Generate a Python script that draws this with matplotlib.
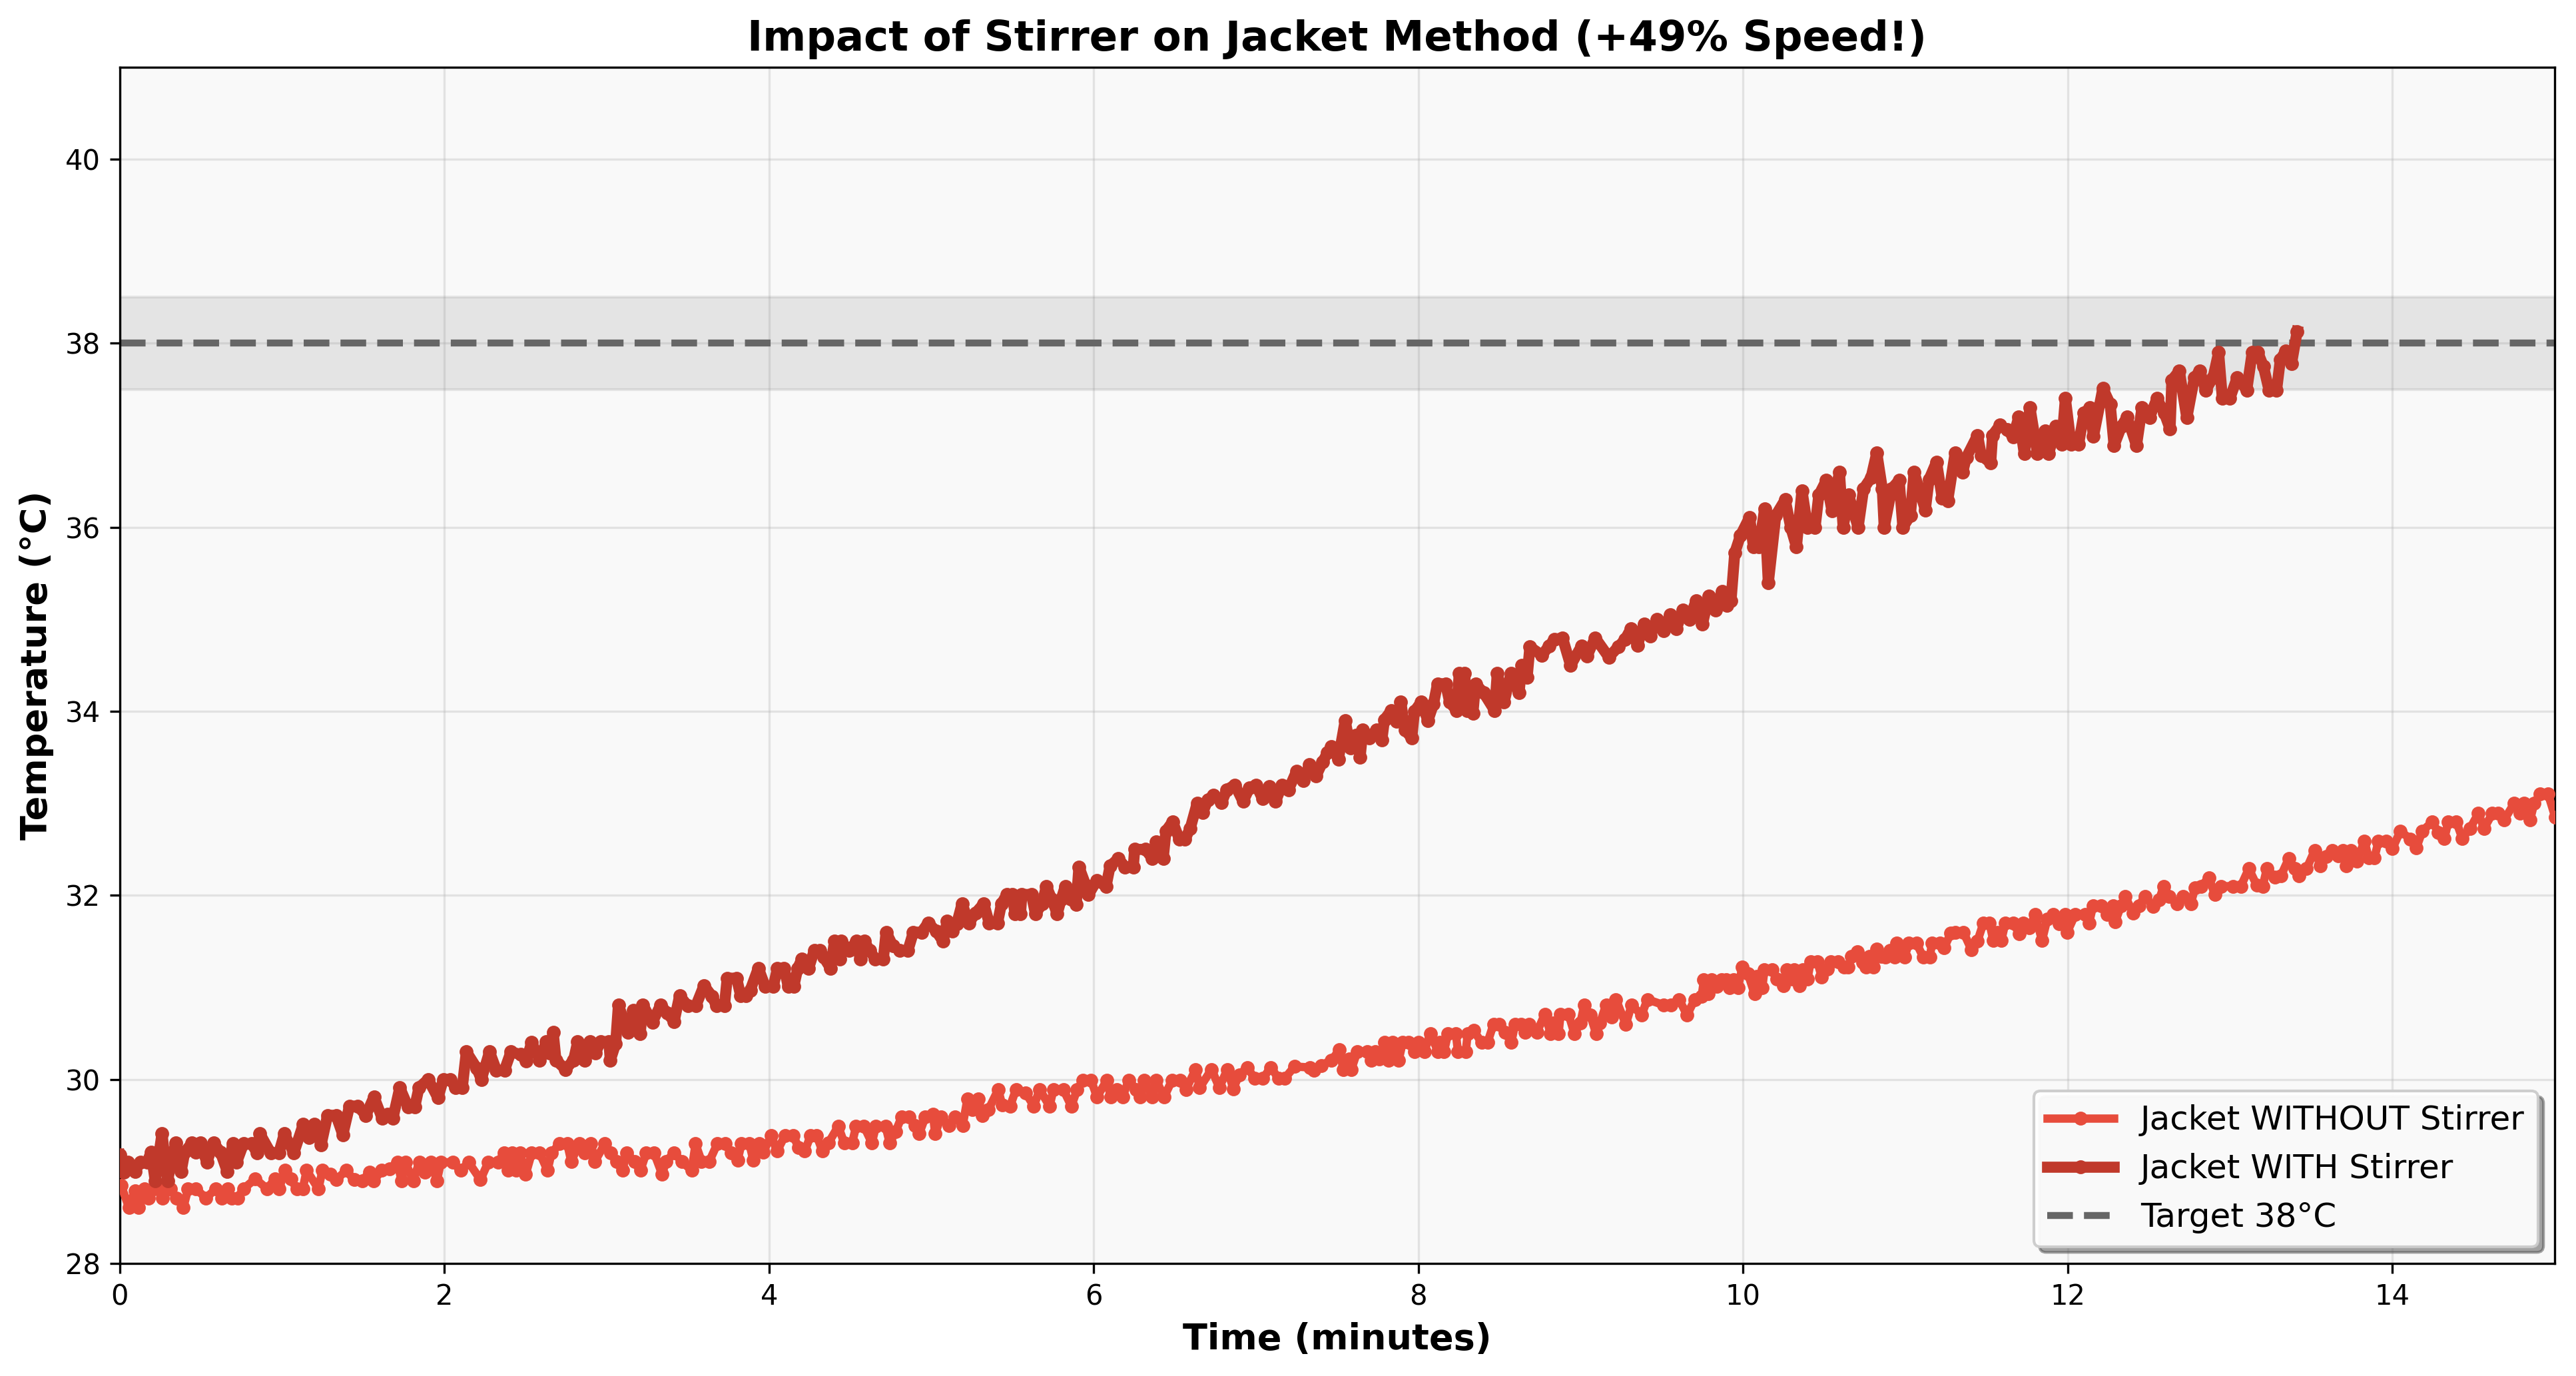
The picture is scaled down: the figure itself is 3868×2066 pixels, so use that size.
import matplotlib
matplotlib.use("Agg")
import matplotlib.pyplot as plt

# ---------------- data ----------------
t_without = [
    0.008, 0.056, 0.093, 0.117, 0.154, 0.178, 0.214, 0.251, 0.263, 0.312, 0.348, 0.392, 0.421, 0.470,
    0.531, 0.591, 0.628, 0.665, 0.689, 0.725, 0.762, 0.835, 0.908, 0.956, 0.981, 1.017, 1.054, 1.090,
    1.127, 1.151, 1.224, 1.248, 1.297, 1.334, 1.394, 1.443, 1.492, 1.540, 1.565, 1.613, 1.662, 1.711,
    1.735, 1.759, 1.808, 1.845, 1.881, 1.917, 1.954, 1.978, 2.051, 2.100, 2.149, 2.222, 2.270, 2.331,
    2.368, 2.392, 2.416, 2.441, 2.465, 2.501, 2.538, 2.587, 2.635, 2.660, 2.708, 2.757, 2.781, 2.830,
    2.866, 2.903, 2.927, 2.988, 3.024, 3.061, 3.097, 3.122, 3.170, 3.207, 3.243, 3.292, 3.341, 3.365,
    3.414, 3.462, 3.523, 3.547, 3.584, 3.632, 3.681, 3.730, 3.767,
    3.806, 3.830, 3.879, 3.903, 3.940, 3.964, 4.013, 4.049, 4.098, 4.147, 4.183, 4.220, 4.256, 4.293,
    4.329, 4.366, 4.426, 4.463, 4.512, 4.536, 4.585, 4.633, 4.658, 4.718, 4.743, 4.779, 4.816, 4.864,
    4.901, 4.925, 4.962, 5.010, 5.023, 5.059, 5.108, 5.144, 5.193, 5.222, 5.254, 5.290, 5.315, 5.351,
    5.412, 5.436, 5.485, 5.521, 5.582, 5.631, 5.667, 5.728, 5.752, 5.813, 5.862, 5.898, 5.935, 5.984,
    6.020, 6.081, 6.105, 6.142, 6.178, 6.215, 6.263, 6.288, 6.312, 6.361, 6.385, 6.434, 6.482, 6.531,
    6.568, 6.628, 6.653, 6.726, 6.774, 6.823, 6.860, 6.896, 6.945, 6.993, 7.042, 7.091, 7.139, 7.176,
    7.237, 7.334, 7.358, 7.400,
    7.465, 7.514, 7.538, 7.574, 7.587, 7.623, 7.684, 7.708, 7.733, 7.757, 7.793, 7.818, 7.842, 7.879,
    7.903, 7.939, 7.976, 8.000, 8.037, 8.073, 8.122, 8.134, 8.158, 8.183, 8.231, 8.244, 8.292, 8.304,
    8.341, 8.390, 8.426, 8.463, 8.499, 8.536, 8.572, 8.596, 8.633, 8.657, 8.682, 8.730, 8.779, 8.815,
    8.828, 8.864, 8.876, 8.925, 8.961, 8.998, 9.022, 9.059, 9.095, 9.119, 9.156, 9.192, 9.217, 9.278,
    9.314, 9.375, 9.411, 9.509, 9.557, 9.606, 9.655, 9.703,
    9.745, 9.759, 9.786, 9.806, 9.840, 9.867, 9.895, 9.915, 9.942, 9.969, 9.996, 10.030, 10.071,
    10.085, 10.119, 10.132, 10.180, 10.207, 10.248, 10.268, 10.302, 10.316, 10.349, 10.370, 10.397,
    10.417, 10.458, 10.485, 10.519, 10.540, 10.587, 10.621, 10.648, 10.669, 10.703, 10.737, 10.757,
    10.777, 10.805, 10.825, 10.852, 10.879, 10.906, 10.934, 10.947, 10.995, 11.022, 11.069, 11.110,
    11.151, 11.164, 11.212, 11.239, 11.280,
    11.309, 11.358, 11.407, 11.444, 11.481, 11.518, 11.542, 11.567, 11.591, 11.616, 11.665, 11.702,
    11.727, 11.764, 11.800, 11.842, 11.874, 11.911, 11.948, 11.985, 11.997, 12.046, 12.108, 12.132,
    12.157, 12.206, 12.243, 12.280, 12.292, 12.329, 12.354, 12.403, 12.440, 12.477, 12.526, 12.563,
    12.592, 12.624, 12.673, 12.710, 12.759, 12.784, 12.821, 12.870, 12.907, 12.944, 13.018, 13.067,
    13.116, 13.165, 13.202, 13.227, 13.276, 13.313, 13.362, 13.399, 13.423, 13.472, 13.522, 13.558,
    13.595, 13.632, 13.669, 13.694, 13.718, 13.743, 13.780, 13.829, 13.854, 13.890, 13.915, 13.964,
    14.001, 14.050, 14.112, 14.149, 14.185, 14.247, 14.284, 14.321, 14.345, 14.395, 14.431, 14.480,
    14.530, 14.566, 14.616, 14.652, 14.689, 14.751, 14.788, 14.812, 14.849, 14.874, 14.911, 14.960,
    15.004,
]
temp_without = [
    28.85, 28.61, 28.79, 28.61, 28.81, 28.71, 28.81, 28.81, 28.71, 28.81, 28.71, 28.61, 28.81, 28.81,
    28.71, 28.81, 28.71, 28.81, 28.71, 28.71, 28.81, 28.92, 28.81, 28.92, 28.81, 29.01, 28.92, 28.81,
    28.81, 29.01, 28.81, 29.01, 28.97, 28.91, 29.01, 28.91, 28.90, 28.99, 28.90, 29.01, 29.03, 29.10,
    28.90, 29.10, 28.90, 29.10, 28.99, 29.10, 28.90, 29.10, 29.10, 29.01, 29.10, 28.91, 29.10, 29.10,
    29.20, 29.01, 29.20, 29.01, 29.20, 28.97, 29.20, 29.20, 29.01, 29.20, 29.30, 29.30, 29.11, 29.30,
    29.20, 29.30, 29.11, 29.30, 29.20, 29.11, 29.01, 29.20, 29.11, 29.01, 29.20, 29.20, 28.97, 29.11,
    29.20, 29.11, 29.01, 29.30, 29.11, 29.11, 29.30, 29.30, 29.20,
    29.12, 29.30, 29.30, 29.12, 29.30, 29.21, 29.39, 29.22, 29.39, 29.39, 29.26, 29.22, 29.39, 29.39,
    29.22, 29.31, 29.49, 29.31, 29.31, 29.49, 29.49, 29.31, 29.49, 29.49, 29.31, 29.43, 29.59, 29.59,
    29.50, 29.41, 29.59, 29.62, 29.41, 29.59, 29.50, 29.59, 29.50, 29.79, 29.67, 29.79, 29.61, 29.67,
    29.89, 29.72, 29.71, 29.89, 29.85, 29.71, 29.89, 29.71, 29.89, 29.89, 29.71, 29.89, 29.99, 29.99,
    29.81, 29.99, 29.81, 29.89, 29.81, 29.99, 29.89, 29.81, 29.99, 29.81, 29.99, 29.81, 29.99, 29.99,
    29.89, 30.11, 29.91, 30.11, 29.91, 30.11, 29.90, 30.05, 30.13, 30.01, 30.01, 30.13, 30.01, 30.01,
    30.14, 30.13, 30.10, 30.15,
    30.21, 30.32, 30.11, 30.22, 30.11, 30.30, 30.30, 30.21, 30.30, 30.22, 30.40, 30.21, 30.40, 30.21,
    30.40, 30.40, 30.30, 30.40, 30.30, 30.50, 30.30, 30.40, 30.30, 30.50, 30.50, 30.30, 30.30, 30.50,
    30.53, 30.40, 30.40, 30.60, 30.60, 30.51, 30.40, 30.60, 30.60, 30.51, 30.60, 30.51, 30.71, 30.50,
    30.61, 30.50, 30.71, 30.71, 30.50, 30.61, 30.81, 30.70, 30.50, 30.61, 30.81, 30.68, 30.87, 30.60,
    30.81, 30.70, 30.87, 30.81, 30.81, 30.87, 30.70, 30.87,
    30.90, 31.08, 30.93, 31.08, 31.01, 31.08, 31.08, 31.00, 31.08, 31.00, 31.22, 31.15, 30.93,
    31.12, 31.00, 31.19, 31.19, 31.09, 31.02, 31.19, 31.09, 31.19, 31.02, 31.19, 31.09,
    31.28, 31.28, 31.11, 31.20, 31.28, 31.28, 31.22, 31.22, 31.34, 31.39, 31.27, 31.22,
    31.34, 31.22, 31.42, 31.34, 31.33, 31.40, 31.33, 31.48, 31.33, 31.48, 31.48, 31.33,
    31.33, 31.48, 31.48, 31.43, 31.59,
    31.60, 31.60, 31.41, 31.50, 31.70, 31.70, 31.51, 31.60, 31.51, 31.70, 31.70, 31.58,
    31.70, 31.65, 31.79, 31.51, 31.74, 31.79, 31.69, 31.79, 31.60, 31.79, 31.79, 31.70,
    31.89, 31.89, 31.79, 31.89, 31.71, 31.89, 31.99, 31.81, 31.89, 31.99, 31.88, 31.95,
    32.10, 31.99, 31.91, 31.99, 31.91, 32.08, 32.10, 32.19, 32.01, 32.10, 32.10, 32.10,
    32.29, 32.11, 32.10, 32.29, 32.20, 32.21, 32.40, 32.29, 32.21, 32.29, 32.49, 32.32,
    32.42, 32.49, 32.43, 32.49, 32.32, 32.49, 32.37, 32.59, 32.41, 32.41, 32.59, 32.59,
    32.51, 32.70, 32.61, 32.52, 32.70, 32.80, 32.68, 32.62, 32.80, 32.80, 32.62, 32.73,
    32.89, 32.73, 32.89, 32.89, 32.82, 33.00, 32.89, 33.00, 32.82, 33.00, 33.10, 33.10,
    32.85,
]

t_with = [
    0.000, 0.026, 0.050, 0.093, 0.126, 0.168, 0.193, 0.218, 0.260, 0.294, 0.344, 0.378, 0.400, 0.445,
    0.470, 0.495, 0.536, 0.578, 0.620, 0.662, 0.696, 0.720, 0.762, 0.813, 0.846, 0.863, 0.930, 0.980,
    1.014, 1.072, 1.130, 1.164, 1.198, 1.240, 1.280, 1.332, 1.374, 1.415, 1.466, 1.516, 1.566, 1.616,
    1.650, 1.683, 1.725, 1.776, 1.817, 1.843, 1.900, 1.960, 1.993, 2.035, 2.069, 2.110, 2.135, 2.200,
    2.227, 2.278, 2.320, 2.370, 2.410, 2.470, 2.504, 2.537,
    2.587, 2.628, 2.645, 2.670, 2.687, 2.746, 2.796, 2.821, 2.863, 2.896, 2.930, 2.963, 3.013, 3.022,
    3.055, 3.072, 3.131, 3.164, 3.206, 3.223, 3.281, 3.332, 3.373, 3.415, 3.449, 3.499, 3.549, 3.599,
    3.650, 3.675, 3.725, 3.742, 3.800, 3.825, 3.859, 3.884, 3.934, 3.976, 4.026, 4.052, 4.093, 4.118,
    4.152, 4.177, 4.202, 4.244, 4.278, 4.311, 4.336, 4.378, 4.403, 4.437, 4.445, 4.495, 4.537, 4.562,
    4.587, 4.621, 4.654, 4.704, 4.721, 4.763, 4.805, 4.855, 4.889, 4.939, 4.980,
    5.030, 5.072, 5.097, 5.130, 5.156, 5.189, 5.231, 5.273, 5.323, 5.356, 5.407, 5.432, 5.465, 5.499,
    5.515, 5.549, 5.557, 5.616, 5.641, 5.683, 5.708, 5.741, 5.775, 5.800, 5.825, 5.859, 5.892, 5.909,
    5.951, 5.968, 6.018, 6.076, 6.101, 6.152, 6.193, 6.244, 6.252, 6.319, 6.361, 6.386, 6.428, 6.445,
    6.486, 6.528, 6.562, 6.595, 6.637, 6.671, 6.704, 6.738, 6.788,
    6.820, 6.870, 6.920, 6.960, 7.000, 7.040, 7.080, 7.120, 7.160, 7.200, 7.250, 7.290, 7.330, 7.370,
    7.410, 7.440,
    7.465, 7.507, 7.549, 7.582, 7.616, 7.641, 7.658, 7.699, 7.741, 7.775, 7.791, 7.833, 7.867, 7.892,
    7.917, 7.959, 7.976, 8.017, 8.059, 8.093, 8.118, 8.168, 8.193, 8.235, 8.252, 8.285, 8.302, 8.336,
    8.352, 8.403, 8.470, 8.486, 8.528, 8.570, 8.620, 8.637, 8.670, 8.687, 8.762, 8.804, 8.838, 8.888,
    8.938, 9.005, 9.039, 9.089, 9.173, 9.231, 9.273,
    9.310, 9.350, 9.390, 9.430, 9.470, 9.510, 9.550, 9.590, 9.630, 9.670, 9.710, 9.750, 9.790, 9.830,
    9.870, 9.900,
    9.926, 9.949, 9.984, 10.041, 10.064, 10.099, 10.133, 10.156, 10.202, 10.260, 10.294, 10.329,
    10.363, 10.398, 10.444, 10.467, 10.513, 10.548, 10.594, 10.617, 10.651, 10.709, 10.743, 10.789,
    10.824, 10.858, 10.870, 10.916, 10.962, 10.985, 11.031, 11.054, 11.123, 11.146, 11.192, 11.227,
    11.261, 11.307, 11.353, 11.376, 11.445, 11.468, 11.526, 11.537, 11.583, 11.629, 11.664, 11.699,
    11.733, 11.768, 11.814, 11.860, 11.883, 11.929, 11.963, 11.986, 12.021, 12.067, 12.101, 12.136,
    12.159, 12.217, 12.262, 12.286, 12.332, 12.366, 12.424, 12.458, 12.504, 12.550, 12.596, 12.631,
    12.642, 12.688, 12.734, 12.781, 12.815, 12.850, 12.896, 12.930, 12.953, 12.999, 13.045, 13.103,
    13.137, 13.172, 13.206, 13.241, 13.287, 13.310, 13.344, 13.379, 13.414,
]
temp_with = [
    29.18, 28.99, 29.10, 29.00, 29.10, 29.10, 29.21, 28.90, 29.41, 28.90, 29.31, 29.00, 29.21, 29.31,
    29.21, 29.31, 29.10, 29.31, 29.21, 29.00, 29.30, 29.10, 29.30, 29.30, 29.20, 29.41, 29.20, 29.20,
    29.41, 29.20, 29.51, 29.37, 29.51, 29.29, 29.61, 29.61, 29.40, 29.71, 29.71, 29.61, 29.81, 29.58,
    29.62, 29.58, 29.91, 29.70, 29.70, 29.91, 30.00, 29.80, 30.00, 30.00, 29.91, 29.91, 30.30, 30.12,
    30.00, 30.30, 30.10, 30.10, 30.30, 30.27, 30.20, 30.40,
    30.21, 30.41, 30.29, 30.51, 30.21, 30.11, 30.21, 30.41, 30.21, 30.41, 30.29, 30.41, 30.41, 30.21,
    30.39, 30.81, 30.51, 30.75, 30.50, 30.81, 30.62, 30.81, 30.72, 30.63, 30.91, 30.80, 30.80, 31.02,
    30.90, 30.80, 30.80, 31.10, 31.10, 30.91, 30.91, 30.97, 31.21, 31.01, 31.01, 31.21, 31.21, 31.01,
    31.01, 31.21, 31.31, 31.21, 31.40, 31.40, 31.33, 31.21, 31.50, 31.31, 31.50, 31.40, 31.50, 31.31,
    31.50, 31.40, 31.31, 31.31, 31.60, 31.45, 31.40, 31.40, 31.60, 31.60, 31.70,
    31.61, 31.50, 31.72, 31.61, 31.69, 31.91, 31.70, 31.81, 31.91, 31.70, 31.70, 31.91, 32.01, 32.01,
    31.80, 31.80, 32.01, 32.01, 31.80, 31.91, 32.10, 31.96, 31.80, 31.96, 32.10, 31.96, 31.90, 32.31,
    32.11, 32.01, 32.16, 32.10, 32.32, 32.40, 32.31, 32.31, 32.50, 32.50, 32.40, 32.58, 32.40, 32.70,
    32.80, 32.61, 32.61, 32.73, 33.00, 32.90, 33.04, 33.09, 33.01,
    33.15, 33.20, 33.02, 33.17, 33.20, 33.05, 33.18, 33.02, 33.20, 33.15, 33.35, 33.25, 33.42, 33.30,
    33.45, 33.55,
    33.62, 33.48, 33.90, 33.60, 33.74, 33.50, 33.80, 33.71, 33.80, 33.69, 33.91, 34.01, 33.89, 34.10,
    33.80, 33.71, 34.00, 34.10, 33.90, 34.08, 34.30, 34.30, 34.10, 34.01, 34.41, 34.41, 34.01, 33.98,
    34.30, 34.20, 34.01, 34.41, 34.10, 34.41, 34.20, 34.50, 34.37, 34.70, 34.61, 34.71, 34.78, 34.80,
    34.50, 34.71, 34.60, 34.80, 34.59, 34.70, 34.78,
    34.90, 34.72, 34.95, 34.82, 35.00, 34.88, 35.05, 34.90, 35.10, 35.00, 35.20, 34.95, 35.25, 35.10,
    35.30, 35.15,
    35.20, 35.72, 35.91, 36.11, 35.79, 35.79, 36.20, 35.40, 36.13, 36.30, 36.00, 35.79,
    36.40, 36.00, 36.00, 36.35, 36.51, 36.18, 36.60, 36.00, 36.35, 36.00, 36.42, 36.54,
    36.81, 36.42, 36.00, 36.42, 36.51, 36.00, 36.13, 36.60, 36.19, 36.52, 36.71, 36.32,
    36.29, 36.81, 36.60, 36.76, 37.00, 36.78, 36.70, 37.00, 37.11, 37.06, 36.98, 37.20,
    36.80, 37.30, 36.80, 37.05, 36.80, 37.10, 36.90, 37.40, 36.90, 36.90, 37.24, 37.30,
    36.99, 37.51, 37.34, 36.89, 37.10, 37.20, 36.89, 37.30, 37.19, 37.40, 37.24, 37.07,
    37.60, 37.70, 37.19, 37.63, 37.70, 37.49, 37.63, 37.90, 37.40, 37.40, 37.63, 37.49,
    37.90, 37.90, 37.75, 37.49, 37.49, 37.82, 37.92, 37.78, 38.13,
]

target_temp = 38.0
target_band = (37.5, 38.5)
x_ticks = [0, 2, 4, 6, 8, 10, 12, 14]
y_ticks = [28, 30, 32, 34, 36, 38, 40]

color_without = "#e74c3c"
color_with = "#c0392b"

# ---------------- figure ----------------
fig = plt.figure(figsize=(3868 / 300, 2066 / 300), dpi=300)
ax = fig.add_axes([0.0465, 0.0818, 0.9452, 0.8693])
ax.set_facecolor("#f9f9f9")

ax.axhspan(target_band[0], target_band[1], color="gray", alpha=0.17, zorder=1)

ax.plot(t_without, temp_without, color=color_without, linewidth=3, marker="o",
        markersize=4, label="Jacket WITHOUT Stirrer", zorder=3)
ax.plot(t_with, temp_with, color=color_with, linewidth=4, marker="o",
        markersize=4, label="Jacket WITH Stirrer", zorder=3)
ax.axhline(target_temp, color="#666666", linestyle="--", linewidth=2.5,
           label="Target 38°C", zorder=2)

ax.set_xlim(0, 15)
ax.set_ylim(28, 41)
ax.set_xticks(x_ticks)
ax.set_yticks(y_ticks)
ax.tick_params(labelsize=10)
ax.grid(True, alpha=0.3)
ax.set_axisbelow(True)

ax.set_xlabel("Time (minutes)", fontsize=13, fontweight="bold")
ax.set_ylabel("Temperature (°C)", fontsize=13, fontweight="bold")
ax.set_title("Impact of Stirrer on Jacket Method (+49% Speed!)", fontsize=15,
             fontweight="bold")

ax.legend(loc="lower right", fontsize=12, fancybox=True, shadow=True, framealpha=0.95)

fig.savefig("out.png", dpi=300)
